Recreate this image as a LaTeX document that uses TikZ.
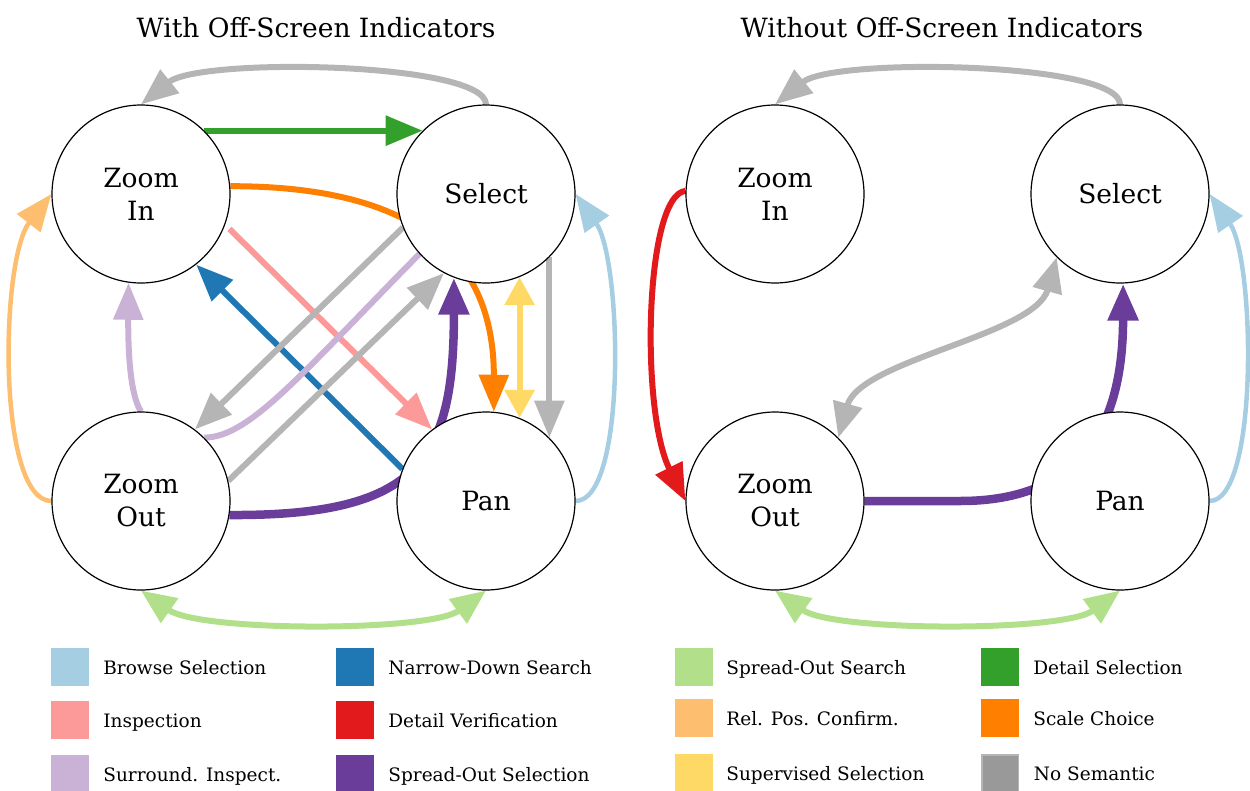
\documentclass[tikz,border=0pt]{standalone}
\usepackage{fontspec}
\setmainfont{DejaVu Serif}
\usetikzlibrary{arrows.meta,positioning,backgrounds}
\definecolor{browse}{HTML}{A6CEE3}
\definecolor{narrowdown}{HTML}{1F78B4}
\definecolor{spreadsearch}{HTML}{B2DF8A}
\definecolor{detailsel}{HTML}{33A02C}
\definecolor{inspection}{HTML}{FB9A99}
\definecolor{detailverif}{HTML}{E31A1C}
\definecolor{relpos}{HTML}{FDBF6F}
\definecolor{scalechoice}{HTML}{FF7F00}
\definecolor{surround}{HTML}{CAB2D6}
\definecolor{spreadsel}{HTML}{6A3D9A}
\definecolor{supervised}{HTML}{FFD966}
\definecolor{nosemantic}{HTML}{999999}
\definecolor{nosemline}{HTML}{B5B5B5}

\begin{document}
\begin{tikzpicture}[
  x=1pt, y=-1pt,
  state/.style={draw, circle, fill=white, line width=1.2pt, minimum size=178pt,
    inner sep=0pt, align=center, font=\fontsize{26.5}{33}\selectfont},
  title/.style={anchor=base, font=\fontsize{26.5}{32}\selectfont},
  swatch/.style={minimum size=38pt, inner sep=0pt},
  keytext/.style={anchor=west, inner sep=0pt, text height=14pt, text depth=0pt,
    font=\fontsize{18.5}{24}\selectfont},
  edge/.style={line width=6pt},
  side/.style={line width=4.5pt},
  arrow/.style={-{Triangle[length=37pt,width=29pt]}},
  twoway/.style={{Triangle[length=35pt,width=29pt]}-{Triangle[length=35pt,width=29pt]}}
]
\useasboundingbox (0,0) rectangle (1250,790);

% titles
\node[title] (t1) at (316,37) {With Off-Screen Indicators};
\node[title] (t2) at (942,37) {Without Off-Screen Indicators};

% with indicators
\node[state] (zi) at (141,194) {Zoom\\In};
\node[state] (s) at (486,194) {Select};
\node[state] (zo) at (141,501) {Zoom\\Out};
\node[state] (p) at (486,501) {Pan};

% without indicators
\node[state] (zi2) at (775,194) {Zoom\\In};
\node[state] (s2) at (1120,194) {Select};
\node[state] (zo2) at (775,501) {Zoom\\Out};
\node[state] (p2) at (1120,501) {Pan};

\begin{scope}[on background layer]
\draw[edge, draw=nosemline, arrow] (s.90) .. controls (486,62) and (200,57) .. (zi.90);
\draw[edge, draw=detailsel, arrow] (zi.45) -- (s.135);
\draw[edge, draw=scalechoice, arrow] (zi.5) .. controls (420,186) and (494,260) .. (p.85);
\draw[edge, draw=inspection, arrow, shorten <=6pt] (zi.-20) -- (p.127);
\draw[edge, draw=narrowdown, arrow] (p.159) -- (zi.-52);
\draw[edge, draw=nosemline, arrow] (s.-158) -- (zo.53);
\draw[edge, draw=surround] (s.-138) .. controls (300,375) and (250,437) .. (zo.45);
\draw[edge, draw=nosemline, arrow] (zo.13) -- (s.-118);
\draw[edge, draw=spreadsel, line width=8.5pt, arrow] (zo.-9) .. controls (420,516) and (454,460) .. (s.-111);
\draw[edge, draw=supervised, {Triangle[length=28pt,width=29pt]}-{Triangle[length=28pt,width=29pt]}] (s.-68) -- (p.68);
\draw[edge, draw=nosemline, arrow] (s.-45) -- (p.45);
\draw[side, draw=browse, arrow] (p.0) .. controls (627,501) and (622,260) .. (s.0);
\draw[side, draw=relpos, arrow] (zo.180) .. controls (-3,501) and (0,260) .. (zi.180);
\draw[edge, draw=spreadsearch, twoway] (zo.-90) .. controls (200,632) and (430,632) .. (p.-90);
\draw[edge, draw=surround, arrow] (zo.90) .. controls (130,395) and (128,350) .. (zi.-98);

\draw[edge, draw=nosemline, arrow] (s2.90) .. controls (1120,62) and (834,57) .. (zi2.90);
\draw[edge, draw=detailverif, arrow] (zi2.178) .. controls (645,195) and (640,410) .. (zo2.180);
\draw[edge, draw=nosemline, twoway] (zo2.45) .. controls (860,360) and (1035,335) .. (s2.-135);
\draw[edge, draw=spreadsel, line width=8.5pt, arrow] (zo2.0) -- (960,501) .. controls (1070,501) and (1123,440) .. (s2.-88);
\draw[side, draw=browse, arrow] (p2.0) .. controls (1259,501) and (1255,260) .. (s2.0);
\draw[edge, draw=spreadsearch, twoway] (zo2.-90) .. controls (834,632) and (1064,632) .. (p2.-90);
\end{scope}

% legend
\node[swatch, fill=browse] (k1) at (70,667) {};
\node[keytext, right=14pt of k1] (l1) {Browse Selection};
\node[swatch, fill=inspection] (k2) at (70,720) {};
\node[keytext, right=14pt of k2] (l2) {Inspection};
\node[swatch, fill=surround] (k3) at (70,774) {};
\node[keytext, right=14pt of k3] (l3) {Surround. Inspect.};
\node[swatch, fill=narrowdown] (k4) at (355,667) {};
\node[keytext, right=14pt of k4] (l4) {Narrow-Down Search};
\node[swatch, fill=detailverif] (k5) at (355,720) {};
\node[keytext, right=14pt of k5] (l5) {Detail Verification};
\node[swatch, fill=spreadsel] (k6) at (355,774) {};
\node[keytext, right=14pt of k6] (l6) {Spread-Out Selection};
\node[swatch, fill=spreadsearch] (k7) at (694,667) {};
\node[keytext, right=13pt of k7] (l7) {Spread-Out Search};
\node[swatch, fill=relpos] (k8) at (694,718) {};
\node[keytext, right=13pt of k8] (l8) {Rel. Pos. Confirm.};
\node[swatch, fill=supervised] (k9) at (694,773) {};
\node[keytext, right=13pt of k9] (l9) {Supervised Selection};
\node[swatch, fill=detailsel] (k10) at (1000,667) {};
\node[keytext, right=14pt of k10] (l10) {Detail Selection};
\node[swatch, fill=scalechoice] (k11) at (1000,718) {};
\node[keytext, right=14pt of k11] (l11) {Scale Choice};
\node[swatch, fill=nosemantic, draw=nosemline, line width=1.5pt, minimum size=36.5pt] (k12) at (1000,773) {};
\node[keytext, right=14.75pt of k12] (l12) {No Semantic};
\end{tikzpicture}
\end{document}
